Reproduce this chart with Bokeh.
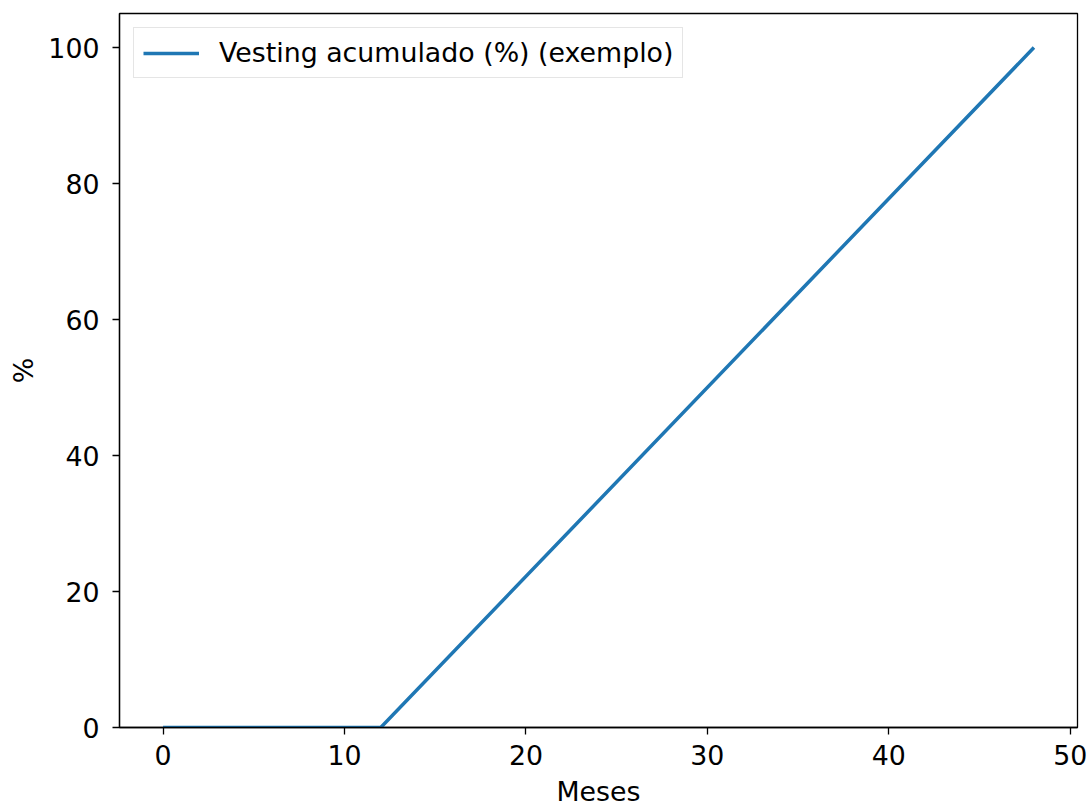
from bokeh.plotting import figure
from bokeh.models import Range1d, FixedTicker, Legend, LegendItem
from bokeh.embed import file_html
from bokeh.resources import INLINE

# Data
meses = [0, 12, 48]
vesting = [0, 0, 100]
x_ticks = [0, 10, 20, 30, 40, 50]
y_ticks = [0, 20, 40, 60, 80, 100]
serie_label = "Vesting acumulado (%) (exemplo)"

FONT = "DejaVu Sans"
FS = "26.8px"

p = figure(width=1090, height=811, output_backend="svg", toolbar_location=None,
           x_range=Range1d(-2.4, 50.4), y_range=Range1d(0, 105),
           min_border_left=119, min_border_right=13, min_border_top=13, min_border_bottom=84)

r = p.line(meses, vesting, line_color="#1f77b4", line_width=3.5)

p.xgrid.visible = False
p.ygrid.visible = False
p.outline_line_color = "black"
p.outline_line_width = 1.3
p.background_fill_color = "white"
p.border_fill_color = "white"

for ax, ticks in ((p.xaxis, x_ticks), (p.yaxis, y_ticks)):
    ax.ticker = FixedTicker(ticks=ticks)
    ax.minor_tick_line_color = None
    ax.major_tick_in = 0
    ax.major_tick_out = 7
    ax.major_tick_line_color = "black"
    ax.major_tick_line_width = 1.3
    ax.axis_line_color = "black"
    ax.axis_line_width = 1.3
    ax.major_label_text_font = FONT
    ax.major_label_text_font_size = FS
    ax.major_label_text_color = "black"
    ax.axis_label_text_font = FONT
    ax.axis_label_text_font_size = FS
    ax.axis_label_text_font_style = "normal"
    ax.axis_label_text_color = "black"

p.xaxis.axis_label = "Meses"
p.yaxis.axis_label = "%"
p.xaxis.major_label_text_line_height = 1.0
p.xaxis.axis_label_text_line_height = 1.0
p.xaxis.major_label_standoff = 10
p.xaxis.axis_label_standoff = 8
p.yaxis.major_label_standoff = 13
p.yaxis.axis_label_standoff = 6

legend = Legend(items=[LegendItem(label=serie_label, renderers=[r])],
                location="top_left", margin=14, padding=9, spacing=0,
                glyph_width=56, glyph_height=24, label_standoff=20,
                label_text_font=FONT, label_text_font_size=FS, label_text_color="black",
                border_line_color="#cccccc", border_line_width=1.3,
                background_fill_color="white", background_fill_alpha=0.8)
p.add_layout(legend)

open("out.html", "w").write(file_html(p, INLINE))
